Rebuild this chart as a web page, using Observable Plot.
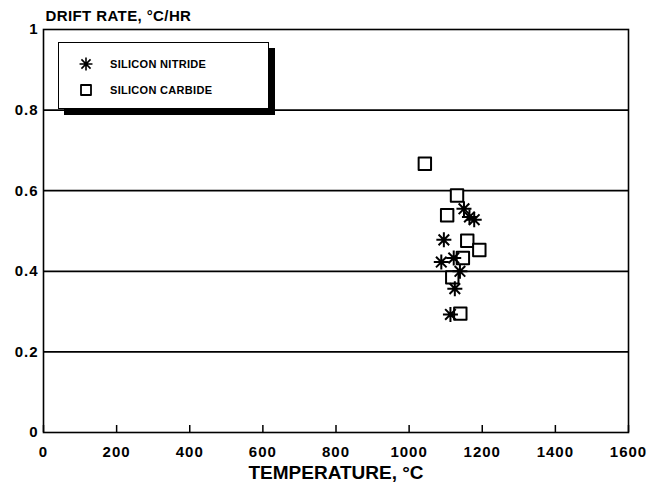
<!DOCTYPE html>
<html>
<head>
<meta charset="utf-8">
<script src="https://cdn.jsdelivr.net/npm/d3@7"></script>
<script src="https://cdn.jsdelivr.net/npm/@observablehq/plot@0.6"></script>
<style>
  html, body { margin: 0; padding: 0; background: #fff; }
  #wrap { position: relative; width: 664px; height: 491px; font-family: "Liberation Sans", Arial, sans-serif; }
  #wrap svg g[aria-label$="tick label"] text { letter-spacing: 1px; }
  #wrap svg g.ytitle text { letter-spacing: 0.4px; }
  #legend { position: absolute; left: 58px; top: 42px; width: 209px; height: 65px; border: 1px solid #000; background: #fff; box-shadow: 6px 6px 0 #000; }
  #legend .item { position: absolute; left: 0; height: 16px; display: flex; align-items: center; font-weight: bold; font-size: 11px; letter-spacing: 0.3px; color: #000; }
  #legend .item svg { margin-left: 19px; margin-right: 16px; }
</style>
</head>
<body>
<div id="wrap"></div>
<script>
// ---- data ----
const xTicks = [0, 200, 400, 600, 800, 1000, 1200, 1400, 1600];
const yTicks = [0, 0.2, 0.4, 0.6, 0.8, 1];
const gridLines = [0.2, 0.4, 0.6, 0.8];

const seriesNames = ["SILICON NITRIDE", "SILICON CARBIDE"];

const nitrideTemp = [1150, 1165, 1178, 1095, 1122, 1088, 1139, 1125, 1113];
const nitrideRate = [0.555, 0.535, 0.528, 0.478, 0.433, 0.423, 0.400, 0.357, 0.293];

const carbideTemp = [1043, 1131, 1104, 1159, 1192, 1147, 1118, 1140];
const carbideRate = [0.667, 0.588, 0.539, 0.476, 0.453, 0.433, 0.385, 0.295];

const xTitle = "TEMPERATURE, °C";
const yTitle = "DRIFT RATE, °C/HR";

// ---- build ----
const nitride = nitrideTemp.map((t, i) => ({temp: t, rate: nitrideRate[i]}));
const carbide = carbideTemp.map((t, i) => ({temp: t, rate: carbideRate[i]}));

const star8 = {
  draw(context, size) {
    const r = Math.sqrt(size / Math.PI);
    for (let k = 0; k < 4; k++) {
      const a = k * Math.PI / 4;
      const c = Math.cos(a) * r, s = Math.sin(a) * r;
      context.moveTo(c, s);
      context.lineTo(-c, -s);
    }
  }
};
const roundSquare = {
  draw(context, size) {
    const h = Math.sqrt(size) / 2;
    context.moveTo(-h, -h); context.lineTo(h, -h); context.lineTo(h, h); context.lineTo(-h, h); context.closePath();
  }
};

const chart = Plot.plot({
  width: 664,
  height: 491,
  marginTop: 29,
  marginBottom: 59,
  marginLeft: 43,
  marginRight: 36,
  style: {fontFamily: "'Liberation Sans', Arial, sans-serif", fontWeight: "bold", fontSize: "15px", color: "#000", background: "#fff"},
  x: {domain: [0, 1600]},
  y: {domain: [0, 1]},
  marks: [
    Plot.ruleY(gridLines, {stroke: "#000", strokeWidth: 1.8}),
    Plot.frame({stroke: "#000", strokeWidth: 1.6}),
    Plot.axisY(yTicks, {tickSize: 0, tickPadding: 5, tickFormat: d => String(d), label: null, fontSize: 15, fontWeight: "bold"}),
    Plot.axisX(xTicks, {anchor: "bottom", tickSize: 7, dy: -7, tickFormat: () => "", label: null, stroke: "#000", strokeWidth: 1.5}),
    Plot.axisX(xTicks, {anchor: "bottom", tickSize: 0, tickPadding: 14, tickFormat: d => String(d), label: null, fontSize: 15, fontWeight: "bold"}),
    Plot.text([yTitle], {frameAnchor: "top-left", dx: 2, dy: -19.5, textAnchor: "start", fontSize: 15, fontWeight: "bold", className: "ytitle"}),
    Plot.text([xTitle], {frameAnchor: "bottom", dy: 46, fontSize: 19, fontWeight: "bold"}),
    Plot.dot(carbide, {x: "temp", y: "rate", symbol: roundSquare, r: 7, stroke: "#000", strokeWidth: 2, fill: "#fff", strokeLinejoin: "round"}),
    Plot.dot(nitride, {x: "temp", y: "rate", symbol: star8, r: 7.5, stroke: "#000", strokeWidth: 2})
  ]
});

const wrap = document.getElementById("wrap");
wrap.appendChild(chart);

// legend (HTML overlay)
const legend = document.createElement("div");
legend.id = "legend";
const symbols = [star8, roundSquare];
seriesNames.forEach((name, i) => {
  const item = document.createElement("div");
  item.className = "item";
  item.style.top = (i === 0 ? 13 : 39) + "px";
  const svg = d3.create("svg").attr("width", 16).attr("height", 16).attr("viewBox", "-8 -8 16 16");
  svg.append("path")
    .attr("d", d3.symbol(symbols[i], i === 0 ? 49 * Math.PI * 0.85 : 100)())
    .attr("fill", "none").attr("stroke", "#000").attr("stroke-width", i === 0 ? 1.6 : 1.8).attr("stroke-linejoin", "round");
  item.appendChild(svg.node());
  const span = document.createElement("span");
  span.textContent = name;
  item.appendChild(span);
  legend.appendChild(item);
});
wrap.appendChild(legend);
</script>
</body>
</html>
